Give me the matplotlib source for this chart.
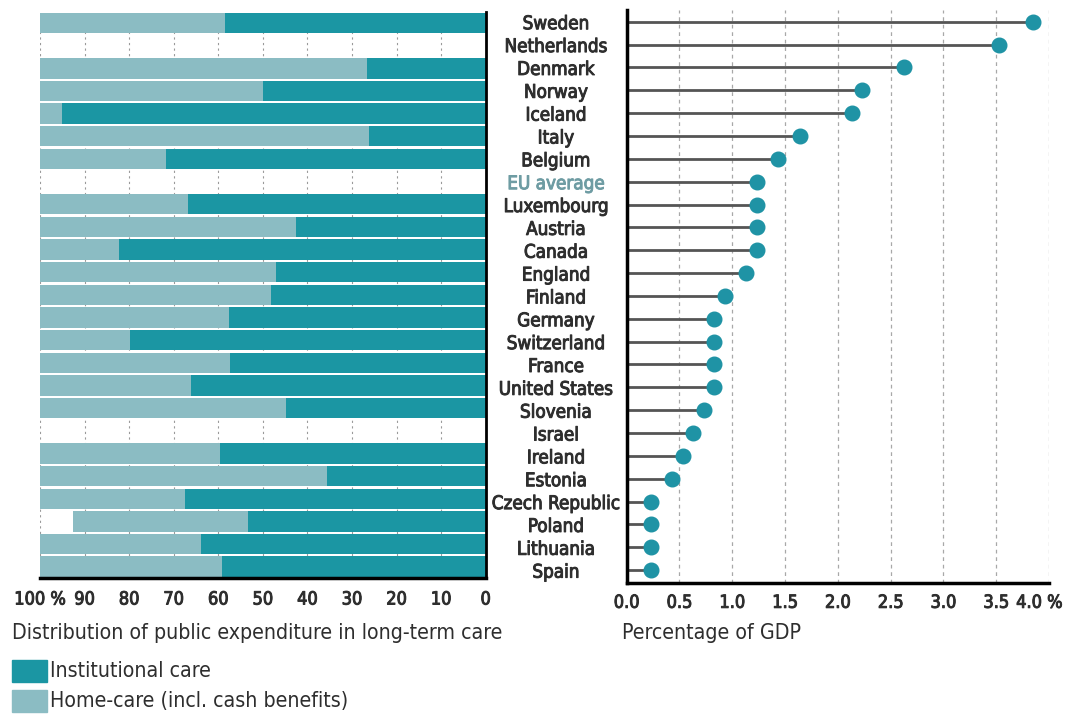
import numpy as np
import matplotlib
matplotlib.use("Agg")
import matplotlib.pyplot as plt
from matplotlib import font_manager
from matplotlib.patches import Rectangle
import matplotlib.patheffects as pe

# Long-term care spending: split by type (left) and share of GDP (right)
countries = ["Sweden", "Netherlands", "Denmark", "Norway", "Iceland", "Italy",
             "Belgium", "EU average", "Luxembourg", "Austria", "Canada", "England",
             "Finland", "Germany", "Switzerland", "France", "United States",
             "Slovenia", "Israel", "Ireland", "Estonia", "Czech Republic",
             "Poland", "Lithuania", "Spain"]

# share of public LTC expenditure going to institutional care (%), nan = no data
institutional = [58.4, np.nan, 26.6, 50.0, 95.0, 26.1, 71.8, np.nan, 66.9, 42.5,
                 82.2, 47.1, 48.2, 57.7, 79.9, 57.3, 66.1, 44.9, np.nan, 59.6,
                 35.7, 67.4, 53.4, 63.8, 59.2]
# home care incl. cash benefits (%); Poland does not add up to 100
home_care = [41.6, np.nan, 73.4, 50.0, 5.0, 73.9, 28.2, np.nan, 33.1, 57.5,
             17.8, 52.9, 51.8, 42.3, 20.1, 42.7, 33.9, 55.1, np.nan, 40.4,
             64.3, 32.6, 39.1, 36.2, 40.8]

# public LTC expenditure as % of GDP
gdp_share = [3.85, 3.53, 2.63, 2.23, 2.13, 1.64, 1.43, 1.23, 1.23, 1.23, 1.23,
             1.13, 0.93, 0.83, 0.83, 0.83, 0.83, 0.73, 0.63, 0.53, 0.43, 0.23,
             0.23, 0.23, 0.23]

left_ticks = [100, 90, 80, 70, 60, 50, 40, 30, 20, 10, 0]
left_ticklabels = ["100 %", "90", "80", "70", "60", "50", "40", "30", "20", "10", "0"]
right_ticks = [0.0, 0.5, 1.0, 1.5, 2.0, 2.5, 3.0, 3.5, 4.0]
right_ticklabels = ["0.0", "0.5", "1.0", "1.5", "2.0", "2.5", "3.0", "3.5", "4.0 %"]

DARK = "#1b96a3"
LIGHT = "#8bbcc3"
DOT = "#1f93a5"
TEXT = "#2e2e2e"

names = {f.name for f in font_manager.fontManager.ttflist}
if "Liberation Sans Narrow" in names:
    FONT = dict(family="Liberation Sans Narrow")
    LBL, TCK, TTL = 16.5, 15, 17
else:
    FONT = dict(family="DejaVu Sans", stretch="condensed")
    LBL, TCK, TTL = 13.5, 13, 15.3

# slightly heavier strokes for the country names and tick numbers
heavy = [pe.withStroke(linewidth=0.7, foreground=TEXT)]

W, H = 1069, 715
fig = plt.figure(figsize=(W / 100, H / 100), dpi=100)

def box(x0, y0, x1, y1):
    return [x0 / W, 1 - y1 / H, (x1 - x0) / W, (y1 - y0) / H]

y = np.arange(len(countries))

# left panel: stacked distribution bars, 100 % on the left
ax1 = fig.add_axes(box(40, 11.7, 485.7, 578))
inst = np.array(institutional)
home = np.array(home_care)
ax1.barh(y, inst, left=0, height=0.9, color=DARK, zorder=2)
ax1.barh(y, home, left=inst, height=0.9, color=LIGHT, zorder=2)
for xv in range(10, 101, 10):
    ax1.axvline(xv, color="#9a9a9a", lw=0.8, ls=(0, (2, 3)), zorder=1)
ax1.set_xlim(100, 0)
ax1.set_ylim(24.5, -0.5)
ax1.set_yticks([])
ax1.set_xticks(left_ticks)
ax1.set_xticklabels(left_ticklabels, color=TEXT, fontsize=TCK, path_effects=heavy, **FONT)
ax1.tick_params(axis="x", length=0, pad=9)
for s in ("top", "left"):
    ax1.spines[s].set_visible(False)
ax1.spines["right"].set_linewidth(2)
ax1.spines["bottom"].set_linewidth(2.5)

# right panel: lollipops of % of GDP
ax2 = fig.add_axes(box(626.7, 10.3, 1049, 582.7))
ax2.hlines(y, 0, gdp_share, color="#555555", lw=2, zorder=2)
ax2.plot(gdp_share, y, "o", color=DOT, ms=10.5, zorder=3)
for xv in right_ticks[1:]:
    ax2.axvline(xv, color="#a8a8a8", lw=0.9, ls=(0, (3, 3)), zorder=1)
ax2.set_xlim(0, 4.0)
ax2.set_ylim(24.55, -0.5)
ax2.set_xticks(right_ticks)
# last tick label is drawn separately, nudged left so the % sign fits
ax2.set_xticklabels(right_ticklabels[:-1] + [""], color=TEXT, fontsize=TCK,
                    path_effects=heavy, **FONT)
ax2.annotate(right_ticklabels[-1], xy=(right_ticks[-1], 0),
             xycoords=ax2.get_xaxis_transform(), xytext=(-7, -8),
             textcoords="offset points", ha="center", va="top",
             color=TEXT, fontsize=TCK, path_effects=heavy, **FONT)
ax2.set_yticks(y)
ax2.set_yticklabels(countries, ha="center", color=TEXT, fontsize=LBL,
                    path_effects=heavy, **FONT)
eu = ax2.get_yticklabels()[countries.index("EU average")]
eu.set_color("#6e9ca3")
eu.set_path_effects([pe.withStroke(linewidth=0.7, foreground="#6e9ca3")])
ax2.tick_params(axis="x", length=0, pad=8)
ax2.tick_params(axis="y", length=0, pad=51)
for s in ("top", "right"):
    ax2.spines[s].set_visible(False)
ax2.spines["left"].set_linewidth(2.5)
ax2.spines["bottom"].set_linewidth(2.5)

# axis titles
fig.text(12 / W, 1 - 633 / H, "Distribution of public expenditure in long-term care",
         ha="left", va="center", color=TEXT, fontsize=TTL, **FONT)
fig.text(622 / W, 1 - 633 / H, "Percentage of GDP",
         ha="left", va="center", color=TEXT, fontsize=TTL, **FONT)

# legend
for (y0, col, txt) in [(660, DARK, "Institutional care"),
                       (690, LIGHT, "Home-care (incl. cash benefits)")]:
    fig.patches.append(Rectangle((12 / W, 1 - (y0 + 22) / H), 35 / W, 22 / H,
                                 transform=fig.transFigure, color=col))
    fig.text(50 / W, 1 - (y0 + 11) / H, txt, ha="left", va="center",
             color=TEXT, fontsize=TTL, **FONT)

fig.savefig("out.png", dpi=100)
